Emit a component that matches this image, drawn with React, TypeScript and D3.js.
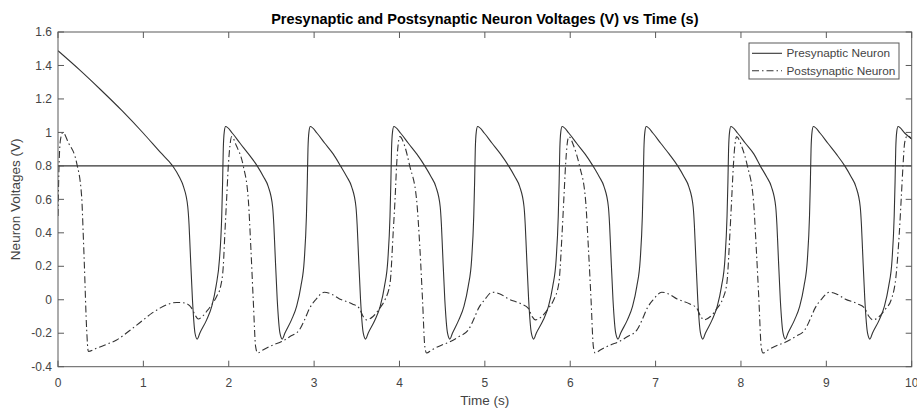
import React from 'react';
import * as d3 from 'd3';

const W = 917;
const H = 409;
const PLOT = { left: 58, right: 911.7, top: 32, bottom: 366.7 };

const titleText = 'Presynaptic and Postsynaptic Neuron Voltages (V) vs Time (s)';
const xLabelText = 'Time (s)';
const yLabelText = 'Neuron Voltages (V)';
const legendLabels = ['Presynaptic Neuron', 'Postsynaptic Neuron'];

const xTickValues = [0, 1, 2, 3, 4, 5, 6, 7, 8, 9, 10];
const xTickLabels = ['0', '1', '2', '3', '4', '5', '6', '7', '8', '9', '10'];
const yTickValues = [-0.4, -0.2, 0, 0.2, 0.4, 0.6, 0.8, 1, 1.2, 1.4, 1.6];
const yTickLabels = ['-0.4', '-0.2', '0', '0.2', '0.4', '0.6', '0.8', '1', '1.2', '1.4', '1.6'];

// reference (threshold) line
const thresholdLine: [number, number][] = [[0, 0.8], [10, 0.8]];

// Presynaptic neuron voltage [time s, volts]
const presynaptic: [number, number][] = [
  [0, 1.488], [0.25, 1.375], [0.5, 1.255], [0.75, 1.13], [1.0, 0.995], [1.2, 0.88], [1.343, 0.8],
  [1.42, 0.735], [1.47, 0.676], [1.52, 0.556], [1.535, 0.45], [1.548, 0.3], [1.575, 0.0], [1.605, -0.2], [1.631, -0.235],
  [1.661, -0.2], [1.741, -0.12], [1.801, -0.04], [1.851, 0.08], [1.891, 0.24], [1.918, 0.5], [1.928, 0.7], [1.936, 0.9], [1.948, 1.005], [1.963, 1.035],
  [2.043, 0.995], [2.133, 0.935], [2.233, 0.87], [2.333, 0.8], [2.407, 0.735], [2.463, 0.676], [2.514, 0.556], [2.528, 0.45], [2.541, 0.3], [2.568, 0.0], [2.6, -0.2], [2.627, -0.235],
  [2.657, -0.2], [2.735, -0.12], [2.795, -0.04], [2.845, 0.08], [2.885, 0.24], [2.91, 0.5], [2.92, 0.7], [2.928, 0.9], [2.94, 1.005], [2.955, 1.035],
  [3.035, 0.995], [3.125, 0.935], [3.225, 0.87], [3.309, 0.8], [3.383, 0.735], [3.439, 0.676], [3.49, 0.556], [3.504, 0.45], [3.517, 0.3], [3.544, 0.0], [3.576, -0.2], [3.603, -0.235],
  [3.633, -0.2], [3.714, -0.12], [3.774, -0.04], [3.824, 0.08], [3.864, 0.24], [3.889, 0.5], [3.899, 0.7], [3.907, 0.9], [3.919, 1.005], [3.934, 1.035],
  [4.014, 0.995], [4.104, 0.935], [4.204, 0.87], [4.296, 0.8], [4.37, 0.735], [4.426, 0.676], [4.477, 0.556], [4.491, 0.45], [4.504, 0.3], [4.531, 0.0], [4.563, -0.2], [4.59, -0.235],
  [4.62, -0.2], [4.695, -0.12], [4.755, -0.04], [4.805, 0.08], [4.845, 0.24], [4.87, 0.5], [4.88, 0.7], [4.888, 0.9], [4.9, 1.005], [4.915, 1.035],
  [4.995, 0.995], [5.085, 0.935], [5.185, 0.87], [5.278, 0.8], [5.352, 0.735], [5.408, 0.676], [5.459, 0.556], [5.473, 0.45], [5.486, 0.3], [5.513, 0.0], [5.545, -0.2], [5.572, -0.235],
  [5.602, -0.2], [5.685, -0.12], [5.745, -0.04], [5.795, 0.08], [5.835, 0.24], [5.86, 0.5], [5.87, 0.7], [5.878, 0.9], [5.89, 1.005], [5.905, 1.035],
  [5.985, 0.995], [6.075, 0.935], [6.175, 0.87], [6.266, 0.8], [6.34, 0.735], [6.396, 0.676], [6.447, 0.556], [6.461, 0.45], [6.474, 0.3], [6.501, 0.0], [6.533, -0.2], [6.56, -0.235],
  [6.59, -0.2], [6.67, -0.12], [6.73, -0.04], [6.78, 0.08], [6.82, 0.24], [6.845, 0.5], [6.855, 0.7], [6.863, 0.9], [6.875, 1.005], [6.89, 1.035],
  [6.97, 0.995], [7.06, 0.935], [7.16, 0.87], [7.259, 0.8], [7.333, 0.735], [7.389, 0.676], [7.44, 0.556], [7.454, 0.45], [7.467, 0.3], [7.494, 0.0], [7.526, -0.2], [7.553, -0.235],
  [7.583, -0.2], [7.662, -0.12], [7.722, -0.04], [7.772, 0.08], [7.812, 0.24], [7.837, 0.5], [7.847, 0.7], [7.855, 0.9], [7.867, 1.005], [7.882, 1.035],
  [7.962, 0.995], [8.052, 0.935], [8.152, 0.87], [8.226, 0.8], [8.3, 0.735], [8.356, 0.676], [8.407, 0.556], [8.421, 0.45], [8.434, 0.3], [8.461, 0.0], [8.493, -0.2], [8.52, -0.235],
  [8.55, -0.2], [8.628, -0.12], [8.688, -0.04], [8.738, 0.08], [8.778, 0.24], [8.803, 0.5], [8.813, 0.7], [8.821, 0.9], [8.833, 1.005], [8.848, 1.035],
  [8.928, 0.995], [9.018, 0.935], [9.118, 0.87], [9.216, 0.8], [9.29, 0.735], [9.346, 0.676], [9.397, 0.556], [9.411, 0.45], [9.424, 0.3], [9.451, 0.0], [9.483, -0.2], [9.51, -0.235],
  [9.54, -0.2], [9.62, -0.12], [9.68, -0.04], [9.73, 0.08], [9.77, 0.24], [9.795, 0.5], [9.805, 0.7], [9.813, 0.9], [9.825, 1.005], [9.84, 1.035],
  [9.92, 0.995], [10.0, 0.96],
];

// Postsynaptic neuron voltage [time s, volts]
const postsynaptic: [number, number][] = [
  [0, 0.5], [0.012, 0.8], [0.03, 0.96], [0.058, 1.0], [0.12, 0.94], [0.219, 0.816], [0.277, 0.617], [0.295, 0.4], [0.308, 0.22], [0.336, -0.18], [0.355, -0.309],
  [0.45, -0.29], [0.55, -0.27], [0.687, -0.24], [0.85, -0.18], [1.0, -0.12], [1.1, -0.08], [1.194, -0.05], [1.3, -0.025], [1.39, -0.016], [1.45, -0.017], [1.5, -0.022],
  [1.565, -0.05], [1.604, -0.09], [1.643, -0.115], [1.68, -0.105], [1.74, -0.07], [1.8, -0.03], [1.858, 0.02], [1.905, 0.08], [1.936, 0.2], [1.955, 0.4], [1.975, 0.6], [1.995, 0.8], [2.014, 0.92], [2.034, 0.975],
  [2.09, 0.92], [2.17, 0.8], [2.229, 0.6], [2.26, 0.3], [2.287, 0.0], [2.315, -0.28], [2.338, -0.318],
  [2.4, -0.3], [2.52, -0.27], [2.62, -0.25], [2.717, -0.22], [2.828, -0.18], [2.888, -0.12], [2.948, -0.05], [3.018, 0.0], [3.118, 0.045], [3.198, 0.035], [3.298, 0.005], [3.448, -0.025], [3.528, -0.05],
  [3.575, -0.1], [3.614, -0.12], [3.69, -0.1], [3.77, -0.05], [3.83, 0.0], [3.89, 0.1], [3.926, 0.4], [3.95, 0.62], [3.966, 0.8], [3.985, 0.93], [4.005, 0.975],
  [4.06, 0.92], [4.12, 0.8], [4.2, 0.6], [4.24, 0.3], [4.27, 0.0], [4.297, -0.28], [4.317, -0.318],
  [4.377, -0.3], [4.497, -0.27], [4.597, -0.25], [4.697, -0.22], [4.807, -0.18], [4.867, -0.12], [4.927, -0.05], [4.997, 0.0], [5.087, 0.045], [5.177, 0.035], [5.277, 0.005], [5.427, -0.025], [5.507, -0.05],
  [5.554, -0.1], [5.593, -0.12], [5.667, -0.1], [5.747, -0.05], [5.807, 0.0], [5.867, 0.1], [5.905, 0.4], [5.927, 0.62], [5.945, 0.8], [5.964, 0.93], [5.984, 0.975],
  [6.04, 0.92], [6.109, 0.8], [6.179, 0.6], [6.214, 0.3], [6.244, 0.0], [6.271, -0.28], [6.292, -0.318],
  [6.352, -0.3], [6.472, -0.27], [6.572, -0.25], [6.672, -0.22], [6.782, -0.18], [6.842, -0.12], [6.902, -0.05], [6.972, 0.0], [7.072, 0.045], [7.152, 0.035], [7.252, 0.005], [7.402, -0.025], [7.482, -0.05],
  [7.529, -0.1], [7.568, -0.12], [7.642, -0.1], [7.722, -0.05], [7.782, 0.0], [7.835, 0.1], [7.871, 0.4], [7.893, 0.62], [7.911, 0.8], [7.93, 0.93], [7.95, 0.975],
  [8.006, 0.92], [8.075, 0.8], [8.145, 0.6], [8.18, 0.3], [8.21, 0.0], [8.237, -0.28], [8.258, -0.318],
  [8.318, -0.3], [8.438, -0.27], [8.538, -0.25], [8.638, -0.22], [8.748, -0.18], [8.808, -0.12], [8.868, -0.05], [8.938, 0.0], [9.038, 0.045], [9.118, 0.035], [9.218, 0.005], [9.368, -0.025], [9.448, -0.05],
  [9.5, -0.1], [9.545, -0.12], [9.62, -0.1], [9.7, -0.05], [9.76, 0.0], [9.82, 0.16], [9.855, 0.4], [9.879, 0.62], [9.898, 0.8], [9.918, 0.94], [9.95, 0.98], [10.0, 0.96],
];

const FONT = '"Liberation Sans", Arial, Helvetica, sans-serif';
const LINE_COLOR = '#333333';
const AXIS_COLOR = '#5a5a5a';
const TEXT_COLOR = '#444444';
const DASH = '7,3,1.5,3';

export default function App() {
  const x = d3.scaleLinear().domain([0, 10]).range([PLOT.left, PLOT.right]);
  const y = d3.scaleLinear().domain([-0.4, 1.6]).range([PLOT.bottom, PLOT.top]);
  const line = d3
    .line<[number, number]>()
    .x((d) => x(d[0]))
    .y((d) => y(d[1]))
    .curve(d3.curveMonotoneX);
  const tickLen = 6;
  const legend = { x0: 749, y0: 43, x1: 899, y1: 79 };
  const rows = [53.3, 70.7];

  return (
    <svg
      width={W}
      height={H}
      style={{ position: 'absolute', left: 0, top: 0, background: '#fff' }}
      fontFamily={FONT}
    >
      <rect x={0} y={0} width={W} height={H} fill="#ffffff" />
      <defs>
        <clipPath id="plotClip">
          <rect x={PLOT.left} y={PLOT.top} width={PLOT.right - PLOT.left} height={PLOT.bottom - PLOT.top} />
        </clipPath>
      </defs>

      {/* data */}
      <g clipPath="url(#plotClip)" fill="none">
        <path d={line(thresholdLine) || ''} stroke={LINE_COLOR} strokeWidth={1.1} />
        <path d={line(presynaptic) || ''} stroke={LINE_COLOR} strokeWidth={1.1} strokeLinejoin="round" />
        <path d={line(postsynaptic) || ''} stroke={LINE_COLOR} strokeWidth={1.1} strokeDasharray={DASH} strokeLinejoin="round" />
      </g>

      {/* axes box */}
      <rect
        x={PLOT.left}
        y={PLOT.top}
        width={PLOT.right - PLOT.left}
        height={PLOT.bottom - PLOT.top}
        fill="none"
        stroke={AXIS_COLOR}
        strokeWidth={1}
      />

      {/* x ticks */}
      {xTickValues.map((v, i) => (
        <g key={'xt' + i}>
          <line x1={x(v)} x2={x(v)} y1={PLOT.bottom} y2={PLOT.bottom - tickLen} stroke={AXIS_COLOR} />
          <line x1={x(v)} x2={x(v)} y1={PLOT.top} y2={PLOT.top + tickLen} stroke={AXIS_COLOR} />
          <text x={x(v)} y={386.5} textAnchor="middle" fontSize={12} fill={TEXT_COLOR}>
            {xTickLabels[i]}
          </text>
        </g>
      ))}

      {/* y ticks */}
      {yTickValues.map((v, i) => (
        <g key={'yt' + i}>
          <line x1={PLOT.left} x2={PLOT.left + tickLen} y1={y(v)} y2={y(v)} stroke={AXIS_COLOR} />
          <line x1={PLOT.right} x2={PLOT.right - tickLen} y1={y(v)} y2={y(v)} stroke={AXIS_COLOR} />
          <text x={52} y={y(v)} dy="0.35em" textAnchor="end" fontSize={12} fill={TEXT_COLOR}>
            {yTickLabels[i]}
          </text>
        </g>
      ))}

      {/* labels */}
      <text x={(PLOT.left + PLOT.right) / 2} y={24} textAnchor="middle" fontSize={14.5} fontWeight="bold" fill="#000">
        {titleText}
      </text>
      <text x={(PLOT.left + PLOT.right) / 2} y={405} textAnchor="middle" fontSize={13.5} fill={TEXT_COLOR}>
        {xLabelText}
      </text>
      <text
        transform={`translate(19.5, ${(PLOT.top + PLOT.bottom) / 2}) rotate(-90)`}
        textAnchor="middle"
        fontSize={13.5}
        fill={TEXT_COLOR}
      >
        {yLabelText}
      </text>

      {/* legend */}
      <rect
        x={legend.x0}
        y={legend.y0}
        width={legend.x1 - legend.x0}
        height={legend.y1 - legend.y0}
        fill="#fff"
        stroke={AXIS_COLOR}
      />
      <line x1={752} x2={782} y1={rows[0]} y2={rows[0]} stroke={LINE_COLOR} strokeWidth={1.1} />
      <line x1={752} x2={782} y1={rows[1]} y2={rows[1]} stroke={LINE_COLOR} strokeWidth={1.1} strokeDasharray={DASH} />
      {legendLabels.map((t, i) => (
        <text key={'lg' + i} x={786.5} y={rows[i]} dy="0.35em" fontSize={11.8} fill={TEXT_COLOR}>
          {t}
        </text>
      ))}
    </svg>
  );
}
